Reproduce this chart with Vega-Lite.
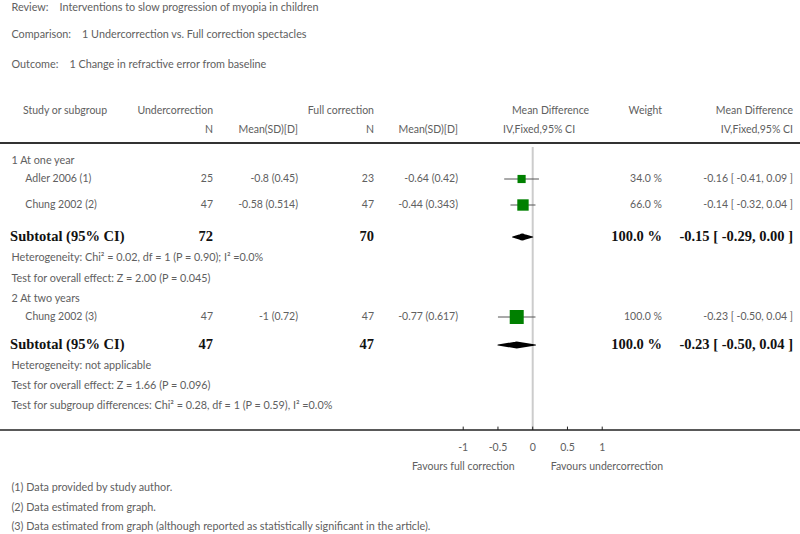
{
  "$schema": "https://vega.github.io/schema/vega-lite/v6.json",
  "width": 800,
  "height": 534,
  "padding": 0,
  "autosize": {"type": "none"},
  "background": "white",
  "config": {"view": {"stroke": null}, "text": {"font": "Lato", "fontSize": 10.5, "color": "#606060", "baseline": "middle"}},
  "datasets": {
    "notes": [
      {"text": "Review:\u00a0\u00a0\u00a0\u00a0Interventions to slow progression of myopia in children", "row": 0.4, "kind": "title"},
      {"text": "Comparison:\u00a0\u00a0\u00a0\u00a01 Undercorrection vs. Full correction spectacles", "row": 1.75, "kind": "title"},
      {"text": "Outcome:\u00a0\u00a0\u00a0\u00a01 Change in refractive error from baseline", "row": 3.25, "kind": "title"},
      {"text": "1 At one year", "row": 8.05, "kind": "group"},
      {"text": "Heterogeneity: Chi² = 0.02, df = 1 (P = 0.90); I² =0.0%", "row": 12.9, "kind": "note"},
      {"text": "Test for overall effect: Z = 2.00 (P = 0.045)", "row": 13.95, "kind": "note"},
      {"text": "2 At two years", "row": 14.95, "kind": "group"},
      {"text": "Heterogeneity: not applicable", "row": 18.3, "kind": "note"},
      {"text": "Test for overall effect: Z = 1.66 (P = 0.096)", "row": 19.3, "kind": "note"},
      {"text": "Test for subgroup differences: Chi² = 0.28, df = 1 (P = 0.59), I² =0.0%", "row": 20.3, "kind": "note"},
      {"text": "(1) Data provided by study author.", "row": 24.4, "kind": "note"},
      {"text": "(2) Data estimated from graph.", "row": 25.4, "kind": "note"},
      {"text": "(3) Data estimated from graph (although reported as statistically significant in the article).", "row": 26.35, "kind": "note"}
    ],
    "headers": [
      {"h": "Study or subgroup", "row": 5.55, "col": "study"},
      {"h": "Undercorrection", "row": 5.55, "col": "n1"},
      {"h": "Full correction", "row": 5.55, "col": "n2"},
      {"h": "Mean Difference", "row": 5.55, "col": "plotA"},
      {"h": "Weight", "row": 5.55, "col": "weight"},
      {"h": "Mean Difference", "row": 5.55, "col": "ci"},
      {"h": "N", "row": 6.5, "col": "n1"},
      {"h": "Mean(SD)[D]", "row": 6.5, "col": "m1"},
      {"h": "N", "row": 6.5, "col": "n2"},
      {"h": "Mean(SD)[D]", "row": 6.5, "col": "m2"},
      {"h": "IV,Fixed,95% CI", "row": 6.5, "col": "plotB"},
      {"h": "IV,Fixed,95% CI", "row": 6.5, "col": "ci"}
    ],
    "studies": [
      {"study": "Adler 2006 (1)", "row": 8.95, "n1": 25, "m1": "-0.8 (0.45)", "n2": 23, "m2": "-0.64 (0.42)", "weight": 34.0, "wtxt": "34.0 %", "est": -0.16, "lo": -0.41, "hi": 0.09, "ci": "-0.16 [ -0.41, 0.09 ]"},
      {"study": "Chung 2002 (2)", "row": 10.25, "n1": 47, "m1": "-0.58 (0.514)", "n2": 47, "m2": "-0.44 (0.343)", "weight": 66.0, "wtxt": "66.0 %", "est": -0.14, "lo": -0.32, "hi": 0.04, "ci": "-0.14 [ -0.32, 0.04 ]"},
      {"study": "Chung 2002 (3)", "row": 15.85, "n1": 47, "m1": "-1 (0.72)", "n2": 47, "m2": "-0.77 (0.617)", "weight": 100.0, "wtxt": "100.0 %", "est": -0.23, "lo": -0.50, "hi": 0.04, "ci": "-0.23 [ -0.50, 0.04 ]"}
    ],
    "subtotals": [
      {"label": "Subtotal (95% CI)", "row": 11.85, "n1": 72, "n2": 70, "wtxt": "100.0 %", "est": -0.15, "lo": -0.29, "hi": 0.00, "ci": "-0.15 [ -0.29, 0.00 ]"},
      {"label": "Subtotal (95% CI)", "row": 17.25, "n1": 47, "n2": 47, "wtxt": "100.0 %", "est": -0.23, "lo": -0.50, "hi": 0.04, "ci": "-0.23 [ -0.50, 0.04 ]"}
    ],
    "ticks": [
      {"t": -1, "lab": "-1"},
      {"t": -0.5, "lab": "-0.5"},
      {"t": 0, "lab": "0"},
      {"t": 0.5, "lab": "0.5"},
      {"t": 1, "lab": "1"}
    ],
    "favours": [
      {"f": "Favours full correction", "side": "left"},
      {"f": "Favours undercorrection", "side": "right"}
    ]
  },
  "layer": [
    {
      "data": {"name": "notes"},
      "mark": {"type": "text", "fontSize": 10.8, "align": "left"},
      "encoding": {
        "x": {"datum": -7.5, "type": "quantitative", "scale": {"domain": [-7.665, 3.846], "nice": false, "zero": false}, "axis": null},
        "y": {"field": "row", "type": "quantitative", "scale": {"domain": [0, 26.7], "reverse": true, "nice": false, "zero": false}, "axis": null},
        "text": {"field": "text"}
      }
    },
    {
      "data": {"name": "headers"},
      "transform": [{"filter": "datum.col === 'study'"}],
      "mark": {"type": "text", "align": "left"},
      "encoding": {
        "x": {"datum": -7.334, "type": "quantitative", "scale": {"domain": [-7.665, 3.846], "nice": false, "zero": false}, "axis": null},
        "y": {"field": "row", "type": "quantitative", "scale": {"domain": [0, 26.7], "reverse": true, "nice": false, "zero": false}, "axis": null},
        "text": {"field": "h"}
      }
    },
    {
      "data": {"name": "headers"},
      "transform": [{"filter": "datum.col === 'n1'"}],
      "mark": {"type": "text", "align": "right"},
      "encoding": {
        "x": {"datum": -4.6, "type": "quantitative", "scale": {"domain": [-7.665, 3.846], "nice": false, "zero": false}, "axis": null},
        "y": {"field": "row", "type": "quantitative", "scale": {"domain": [0, 26.7], "reverse": true, "nice": false, "zero": false}, "axis": null},
        "text": {"field": "h"}
      }
    },
    {
      "data": {"name": "headers"},
      "transform": [{"filter": "datum.col === 'm1'"}],
      "mark": {"type": "text", "align": "right"},
      "encoding": {
        "x": {"datum": -3.377, "type": "quantitative", "scale": {"domain": [-7.665, 3.846], "nice": false, "zero": false}, "axis": null},
        "y": {"field": "row", "type": "quantitative", "scale": {"domain": [0, 26.7], "reverse": true, "nice": false, "zero": false}, "axis": null},
        "text": {"field": "h"}
      }
    },
    {
      "data": {"name": "headers"},
      "transform": [{"filter": "datum.col === 'n2'"}],
      "mark": {"type": "text", "align": "right"},
      "encoding": {
        "x": {"datum": -2.284, "type": "quantitative", "scale": {"domain": [-7.665, 3.846], "nice": false, "zero": false}, "axis": null},
        "y": {"field": "row", "type": "quantitative", "scale": {"domain": [0, 26.7], "reverse": true, "nice": false, "zero": false}, "axis": null},
        "text": {"field": "h"}
      }
    },
    {
      "data": {"name": "headers"},
      "transform": [{"filter": "datum.col === 'm2'"}],
      "mark": {"type": "text", "align": "right"},
      "encoding": {
        "x": {"datum": -1.075, "type": "quantitative", "scale": {"domain": [-7.665, 3.846], "nice": false, "zero": false}, "axis": null},
        "y": {"field": "row", "type": "quantitative", "scale": {"domain": [0, 26.7], "reverse": true, "nice": false, "zero": false}, "axis": null},
        "text": {"field": "h"}
      }
    },
    {
      "data": {"name": "headers"},
      "transform": [{"filter": "datum.col === 'plotA'"}],
      "mark": {"type": "text", "align": "left"},
      "encoding": {
        "x": {"datum": -0.298, "type": "quantitative", "scale": {"domain": [-7.665, 3.846], "nice": false, "zero": false}, "axis": null},
        "y": {"field": "row", "type": "quantitative", "scale": {"domain": [0, 26.7], "reverse": true, "nice": false, "zero": false}, "axis": null},
        "text": {"field": "h"}
      }
    },
    {
      "data": {"name": "headers"},
      "transform": [{"filter": "datum.col === 'plotB'"}],
      "mark": {"type": "text", "align": "left"},
      "encoding": {
        "x": {"datum": -0.428, "type": "quantitative", "scale": {"domain": [-7.665, 3.846], "nice": false, "zero": false}, "axis": null},
        "y": {"field": "row", "type": "quantitative", "scale": {"domain": [0, 26.7], "reverse": true, "nice": false, "zero": false}, "axis": null},
        "text": {"field": "h"}
      }
    },
    {
      "data": {"name": "headers"},
      "transform": [{"filter": "datum.col === 'weight'"}],
      "mark": {"type": "text", "align": "right"},
      "encoding": {
        "x": {"datum": 1.86, "type": "quantitative", "scale": {"domain": [-7.665, 3.846], "nice": false, "zero": false}, "axis": null},
        "y": {"field": "row", "type": "quantitative", "scale": {"domain": [0, 26.7], "reverse": true, "nice": false, "zero": false}, "axis": null},
        "text": {"field": "h"}
      }
    },
    {
      "data": {"name": "headers"},
      "transform": [{"filter": "datum.col === 'ci'"}],
      "mark": {"type": "text", "align": "right"},
      "encoding": {
        "x": {"datum": 3.745, "type": "quantitative", "scale": {"domain": [-7.665, 3.846], "nice": false, "zero": false}, "axis": null},
        "y": {"field": "row", "type": "quantitative", "scale": {"domain": [0, 26.7], "reverse": true, "nice": false, "zero": false}, "axis": null},
        "text": {"field": "h"}
      }
    },
    {
      "data": {"name": "studies"},
      "mark": {"type": "text", "align": "left"},
      "encoding": {
        "x": {"datum": -7.3, "type": "quantitative", "scale": {"domain": [-7.665, 3.846], "nice": false, "zero": false}, "axis": null},
        "y": {"field": "row", "type": "quantitative", "scale": {"domain": [0, 26.7], "reverse": true, "nice": false, "zero": false}, "axis": null},
        "text": {"field": "study"}
      }
    },
    {
      "data": {"name": "studies"},
      "mark": {"type": "text", "align": "right"},
      "encoding": {
        "x": {"datum": -4.6, "type": "quantitative", "scale": {"domain": [-7.665, 3.846], "nice": false, "zero": false}, "axis": null},
        "y": {"field": "row", "type": "quantitative", "scale": {"domain": [0, 26.7], "reverse": true, "nice": false, "zero": false}, "axis": null},
        "text": {"field": "n1"}
      }
    },
    {
      "data": {"name": "studies"},
      "mark": {"type": "text", "align": "right"},
      "encoding": {
        "x": {"datum": -3.377, "type": "quantitative", "scale": {"domain": [-7.665, 3.846], "nice": false, "zero": false}, "axis": null},
        "y": {"field": "row", "type": "quantitative", "scale": {"domain": [0, 26.7], "reverse": true, "nice": false, "zero": false}, "axis": null},
        "text": {"field": "m1"}
      }
    },
    {
      "data": {"name": "studies"},
      "mark": {"type": "text", "align": "right"},
      "encoding": {
        "x": {"datum": -2.284, "type": "quantitative", "scale": {"domain": [-7.665, 3.846], "nice": false, "zero": false}, "axis": null},
        "y": {"field": "row", "type": "quantitative", "scale": {"domain": [0, 26.7], "reverse": true, "nice": false, "zero": false}, "axis": null},
        "text": {"field": "n2"}
      }
    },
    {
      "data": {"name": "studies"},
      "mark": {"type": "text", "align": "right"},
      "encoding": {
        "x": {"datum": -1.075, "type": "quantitative", "scale": {"domain": [-7.665, 3.846], "nice": false, "zero": false}, "axis": null},
        "y": {"field": "row", "type": "quantitative", "scale": {"domain": [0, 26.7], "reverse": true, "nice": false, "zero": false}, "axis": null},
        "text": {"field": "m2"}
      }
    },
    {
      "data": {"name": "studies"},
      "mark": {"type": "text", "align": "right"},
      "encoding": {
        "x": {"datum": 1.86, "type": "quantitative", "scale": {"domain": [-7.665, 3.846], "nice": false, "zero": false}, "axis": null},
        "y": {"field": "row", "type": "quantitative", "scale": {"domain": [0, 26.7], "reverse": true, "nice": false, "zero": false}, "axis": null},
        "text": {"field": "wtxt"}
      }
    },
    {
      "data": {"name": "studies"},
      "mark": {"type": "text", "align": "right"},
      "encoding": {
        "x": {"datum": 3.745, "type": "quantitative", "scale": {"domain": [-7.665, 3.846], "nice": false, "zero": false}, "axis": null},
        "y": {"field": "row", "type": "quantitative", "scale": {"domain": [0, 26.7], "reverse": true, "nice": false, "zero": false}, "axis": null},
        "text": {"field": "ci"}
      }
    },
    {
      "data": {"name": "subtotals"},
      "mark": {"type": "text", "font": "Liberation Serif", "fontSize": 14.5, "fontWeight": "bold", "color": "#111111", "align": "left"},
      "encoding": {
        "x": {"datum": -7.52, "type": "quantitative", "scale": {"domain": [-7.665, 3.846], "nice": false, "zero": false}, "axis": null},
        "y": {"field": "row", "type": "quantitative", "scale": {"domain": [0, 26.7], "reverse": true, "nice": false, "zero": false}, "axis": null},
        "text": {"field": "label"}
      }
    },
    {
      "data": {"name": "subtotals"},
      "mark": {"type": "text", "font": "Liberation Serif", "fontSize": 14.5, "fontWeight": "bold", "color": "#111111", "align": "right"},
      "encoding": {
        "x": {"datum": -4.6, "type": "quantitative", "scale": {"domain": [-7.665, 3.846], "nice": false, "zero": false}, "axis": null},
        "y": {"field": "row", "type": "quantitative", "scale": {"domain": [0, 26.7], "reverse": true, "nice": false, "zero": false}, "axis": null},
        "text": {"field": "n1"}
      }
    },
    {
      "data": {"name": "subtotals"},
      "mark": {"type": "text", "font": "Liberation Serif", "fontSize": 14.5, "fontWeight": "bold", "color": "#111111", "align": "right"},
      "encoding": {
        "x": {"datum": -2.284, "type": "quantitative", "scale": {"domain": [-7.665, 3.846], "nice": false, "zero": false}, "axis": null},
        "y": {"field": "row", "type": "quantitative", "scale": {"domain": [0, 26.7], "reverse": true, "nice": false, "zero": false}, "axis": null},
        "text": {"field": "n2"}
      }
    },
    {
      "data": {"name": "subtotals"},
      "mark": {"type": "text", "font": "Liberation Serif", "fontSize": 14.5, "fontWeight": "bold", "color": "#111111", "align": "right"},
      "encoding": {
        "x": {"datum": 1.86, "type": "quantitative", "scale": {"domain": [-7.665, 3.846], "nice": false, "zero": false}, "axis": null},
        "y": {"field": "row", "type": "quantitative", "scale": {"domain": [0, 26.7], "reverse": true, "nice": false, "zero": false}, "axis": null},
        "text": {"field": "wtxt"}
      }
    },
    {
      "data": {"name": "subtotals"},
      "mark": {"type": "text", "font": "Liberation Serif", "fontSize": 14.5, "fontWeight": "bold", "color": "#111111", "align": "right"},
      "encoding": {
        "x": {"datum": 3.745, "type": "quantitative", "scale": {"domain": [-7.665, 3.846], "nice": false, "zero": false}, "axis": null},
        "y": {"field": "row", "type": "quantitative", "scale": {"domain": [0, 26.7], "reverse": true, "nice": false, "zero": false}, "axis": null},
        "text": {"field": "ci"}
      }
    },
    {
      "data": {"values": [{}]},
      "mark": {"type": "rule", "color": "#333333", "strokeWidth": 2},
      "encoding": {
        "x": {"datum": -7.665, "type": "quantitative", "scale": {"domain": [-7.665, 3.846], "nice": false, "zero": false}, "axis": null},
        "x2": {"datum": 3.846},
        "y": {"datum": 7.15, "type": "quantitative", "scale": {"domain": [0, 26.7], "reverse": true, "nice": false, "zero": false}, "axis": null}
      }
    },
    {
      "data": {"values": [{}]},
      "mark": {"type": "rule", "color": "#cccccc", "strokeWidth": 2},
      "encoding": {
        "x": {"datum": 0, "type": "quantitative", "scale": {"domain": [-7.665, 3.846], "nice": false, "zero": false}, "axis": null},
        "y": {"datum": 7.35, "type": "quantitative", "scale": {"domain": [0, 26.7], "reverse": true, "nice": false, "zero": false}, "axis": null},
        "y2": {"datum": 21.5}
      }
    },
    {
      "data": {"values": [{}]},
      "mark": {"type": "rule", "color": "#222222", "strokeWidth": 1.5},
      "encoding": {
        "x": {"datum": -7.665, "type": "quantitative", "scale": {"domain": [-7.665, 3.846], "nice": false, "zero": false}, "axis": null},
        "x2": {"datum": 3.846},
        "y": {"datum": 21.5, "type": "quantitative", "scale": {"domain": [0, 26.7], "reverse": true, "nice": false, "zero": false}, "axis": null}
      }
    },
    {
      "data": {"name": "ticks"},
      "mark": {"type": "rule", "color": "#222222", "strokeWidth": 1},
      "encoding": {
        "x": {"field": "t", "type": "quantitative", "scale": {"domain": [-7.665, 3.846], "nice": false, "zero": false}, "axis": null},
        "y": {"datum": 21.5, "type": "quantitative", "scale": {"domain": [0, 26.7], "reverse": true, "nice": false, "zero": false}, "axis": null},
        "y2": {"datum": 21.33}
      }
    },
    {
      "data": {"name": "ticks"},
      "mark": {"type": "text", "align": "center"},
      "encoding": {
        "x": {"field": "t", "type": "quantitative", "scale": {"domain": [-7.665, 3.846], "nice": false, "zero": false}, "axis": null},
        "y": {"datum": 22.4, "type": "quantitative", "scale": {"domain": [0, 26.7], "reverse": true, "nice": false, "zero": false}, "axis": null},
        "text": {"field": "lab"}
      }
    },
    {
      "data": {"name": "favours"},
      "transform": [{"filter": "datum.side === 'left'"}],
      "mark": {"type": "text", "align": "right"},
      "encoding": {
        "x": {"datum": -0.26, "type": "quantitative", "scale": {"domain": [-7.665, 3.846], "nice": false, "zero": false}, "axis": null},
        "y": {"datum": 23.35, "type": "quantitative", "scale": {"domain": [0, 26.7], "reverse": true, "nice": false, "zero": false}, "axis": null},
        "text": {"field": "f"}
      }
    },
    {
      "data": {"name": "favours"},
      "transform": [{"filter": "datum.side === 'right'"}],
      "mark": {"type": "text", "align": "left"},
      "encoding": {
        "x": {"datum": 0.26, "type": "quantitative", "scale": {"domain": [-7.665, 3.846], "nice": false, "zero": false}, "axis": null},
        "y": {"datum": 23.35, "type": "quantitative", "scale": {"domain": [0, 26.7], "reverse": true, "nice": false, "zero": false}, "axis": null},
        "text": {"field": "f"}
      }
    },
    {
      "data": {"name": "studies"},
      "mark": {"type": "rule", "color": "#555555", "strokeWidth": 1},
      "encoding": {
        "x": {"field": "lo", "type": "quantitative", "scale": {"domain": [-7.665, 3.846], "nice": false, "zero": false}, "axis": null},
        "x2": {"field": "hi"},
        "y": {"field": "row", "type": "quantitative", "scale": {"domain": [0, 26.7], "reverse": true, "nice": false, "zero": false}, "axis": null}
      }
    },
    {
      "data": {"name": "studies"},
      "mark": {"type": "point", "shape": "square", "filled": true, "color": "#008000", "opacity": 1},
      "encoding": {
        "x": {"field": "est", "type": "quantitative", "scale": {"domain": [-7.665, 3.846], "nice": false, "zero": false}, "axis": null},
        "y": {"field": "row", "type": "quantitative", "scale": {"domain": [0, 26.7], "reverse": true, "nice": false, "zero": false}, "axis": null},
        "size": {"field": "weight", "type": "quantitative", "scale": {"domain": [0, 100], "range": [0, 196]}, "legend": null}
      }
    },
    {
      "data": {"name": "subtotals"},
      "transform": [{"fold": ["lo", "est", "hi"], "as": ["part", "xv"]}],
      "mark": {"type": "trail", "color": "#000000"},
      "encoding": {
        "x": {"field": "xv", "type": "quantitative", "scale": {"domain": [-7.665, 3.846], "nice": false, "zero": false}, "axis": null},
        "y": {"field": "row", "type": "quantitative", "scale": {"domain": [0, 26.7], "reverse": true, "nice": false, "zero": false}, "axis": null},
        "detail": {"field": "row", "type": "nominal"},
        "order": {"field": "xv", "type": "quantitative"},
        "size": {"condition": {"test": "datum.part === 'est'", "value": 7}, "value": 0}
      }
    }
  ]
}
